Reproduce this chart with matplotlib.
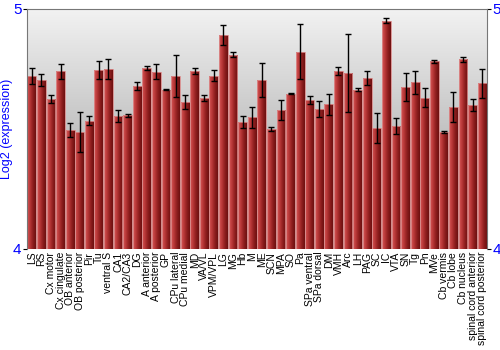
import numpy as np
import matplotlib
matplotlib.use("Agg")
import matplotlib.pyplot as plt
from matplotlib.colors import LinearSegmentedColormap

regions = ["LS", "RS", "Cx motor", "Cx cingulate", "OB anterior", "OB posterior", "Pir", "Tu",
           "ventral S", "CA1", "CA2/CA3", "DG", "A anterior", "A posterior", "GP", "CPu lateral",
           "CPu medial", "MD", "VA/VL", "VPM/VPL", "LG", "MG", "Hb", "M", "ME", "SCN", "MPA", "SO",
           "Pa", "SPa ventral", "SPa dorsal", "DM", "VMH", "Arc", "LH", "PAG", "SC", "IC", "VTA",
           "SN", "Tg", "Pn", "MVe", "Cb vermis", "Cb lobe", "Cb nucleus",
           "spinal cord anterior", "spinal cord posterior"]

expression = [4.722, 4.704, 4.625, 4.740, 4.496, 4.488, 4.535, 4.746,
              4.750, 4.554, 4.557, 4.679, 4.754, 4.738, 4.664, 4.722,
              4.612, 4.742, 4.630, 4.722, 4.890, 4.810, 4.529, 4.549, 4.703, 4.499, 4.580, 4.647,
              4.822, 4.621, 4.583, 4.603, 4.743, 4.733, 4.664, 4.712, 4.505, 4.951, 4.512,
              4.676, 4.694, 4.630, 4.783, 4.488, 4.592, 4.790,
              4.600, 4.690]

error = [0.033, 0.026, 0.017, 0.032, 0.030, 0.083, 0.020, 0.037,
         0.043, 0.026, 0.007, 0.016, 0.009, 0.031, 0.002, 0.088,
         0.030, 0.012, 0.013, 0.024, 0.042, 0.010, 0.024, 0.043, 0.071, 0.008, 0.042, 0.002,
         0.115, 0.015, 0.035, 0.043, 0.016, 0.164, 0.005, 0.030, 0.063, 0.011, 0.034,
         0.058, 0.048, 0.040, 0.006, 0.003, 0.062, 0.010,
         0.026, 0.060]

y_ticks = [4, 5]

plt.rcParams['font.family'] = ['Liberation Sans', 'DejaVu Sans']

fig = plt.figure(figsize=(5, 3.5), dpi=100)
ax = fig.add_axes([27 / 500, 1 - 249 / 350, 460 / 500, 240 / 350])

x = np.arange(len(regions))

# background gradient
bg = LinearSegmentedColormap.from_list("bg", ["#959595", "#f2f2f2"])
grad = np.linspace(0, 1, 256).reshape(-1, 1)
ax.imshow(grad, cmap=bg, aspect="auto", extent=[0, 1, 0, 1], origin="lower",
          transform=ax.transAxes, zorder=0)

bars = ax.bar(x, np.array(expression) - 4, bottom=4, width=0.92, color="none",
              edgecolor="#d98a8a", linewidth=0.6, zorder=2)

barcmap = LinearSegmentedColormap.from_list("bar", ["#d85858", "#b83838", "#8e1e1e", "#6c1010"])
hgrad = np.linspace(0, 1, 64).reshape(1, -1)
for b in bars:
    x0 = b.get_x()
    w = b.get_width()
    y0 = b.get_y()
    h = b.get_height()
    im = ax.imshow(hgrad, cmap=barcmap, aspect="auto",
                   extent=[x0, x0 + w, y0, y0 + h], zorder=1.5)
    im.set_clip_path(b)

ax.errorbar(x, expression, yerr=error, fmt="none", ecolor="black", elinewidth=1,
            capsize=2.2, capthick=1, zorder=3)

ax.set_xlim(-0.5, len(regions) - 0.5)
ax.set_ylim(4, 5)

ax.set_xticks(x)
ax.set_xticklabels(regions, rotation=90, fontsize=7.5)
ax.tick_params(axis="x", length=0, pad=2)

ax.set_yticks(y_ticks)
ax.set_yticklabels([str(t) for t in y_ticks])
ax.tick_params(axis="y", which="both", left=True, right=True, labelleft=True, labelright=True,
               labelcolor="blue", labelsize=11, length=3, color="black", pad=1)

ax.set_ylabel("Log2 (expression)", color="blue", fontsize=9, labelpad=0)

for s in ["top", "left", "right"]:
    ax.spines[s].set_color("#777777")
ax.spines["bottom"].set_visible(False)

fig.savefig("out.png", dpi=100)
